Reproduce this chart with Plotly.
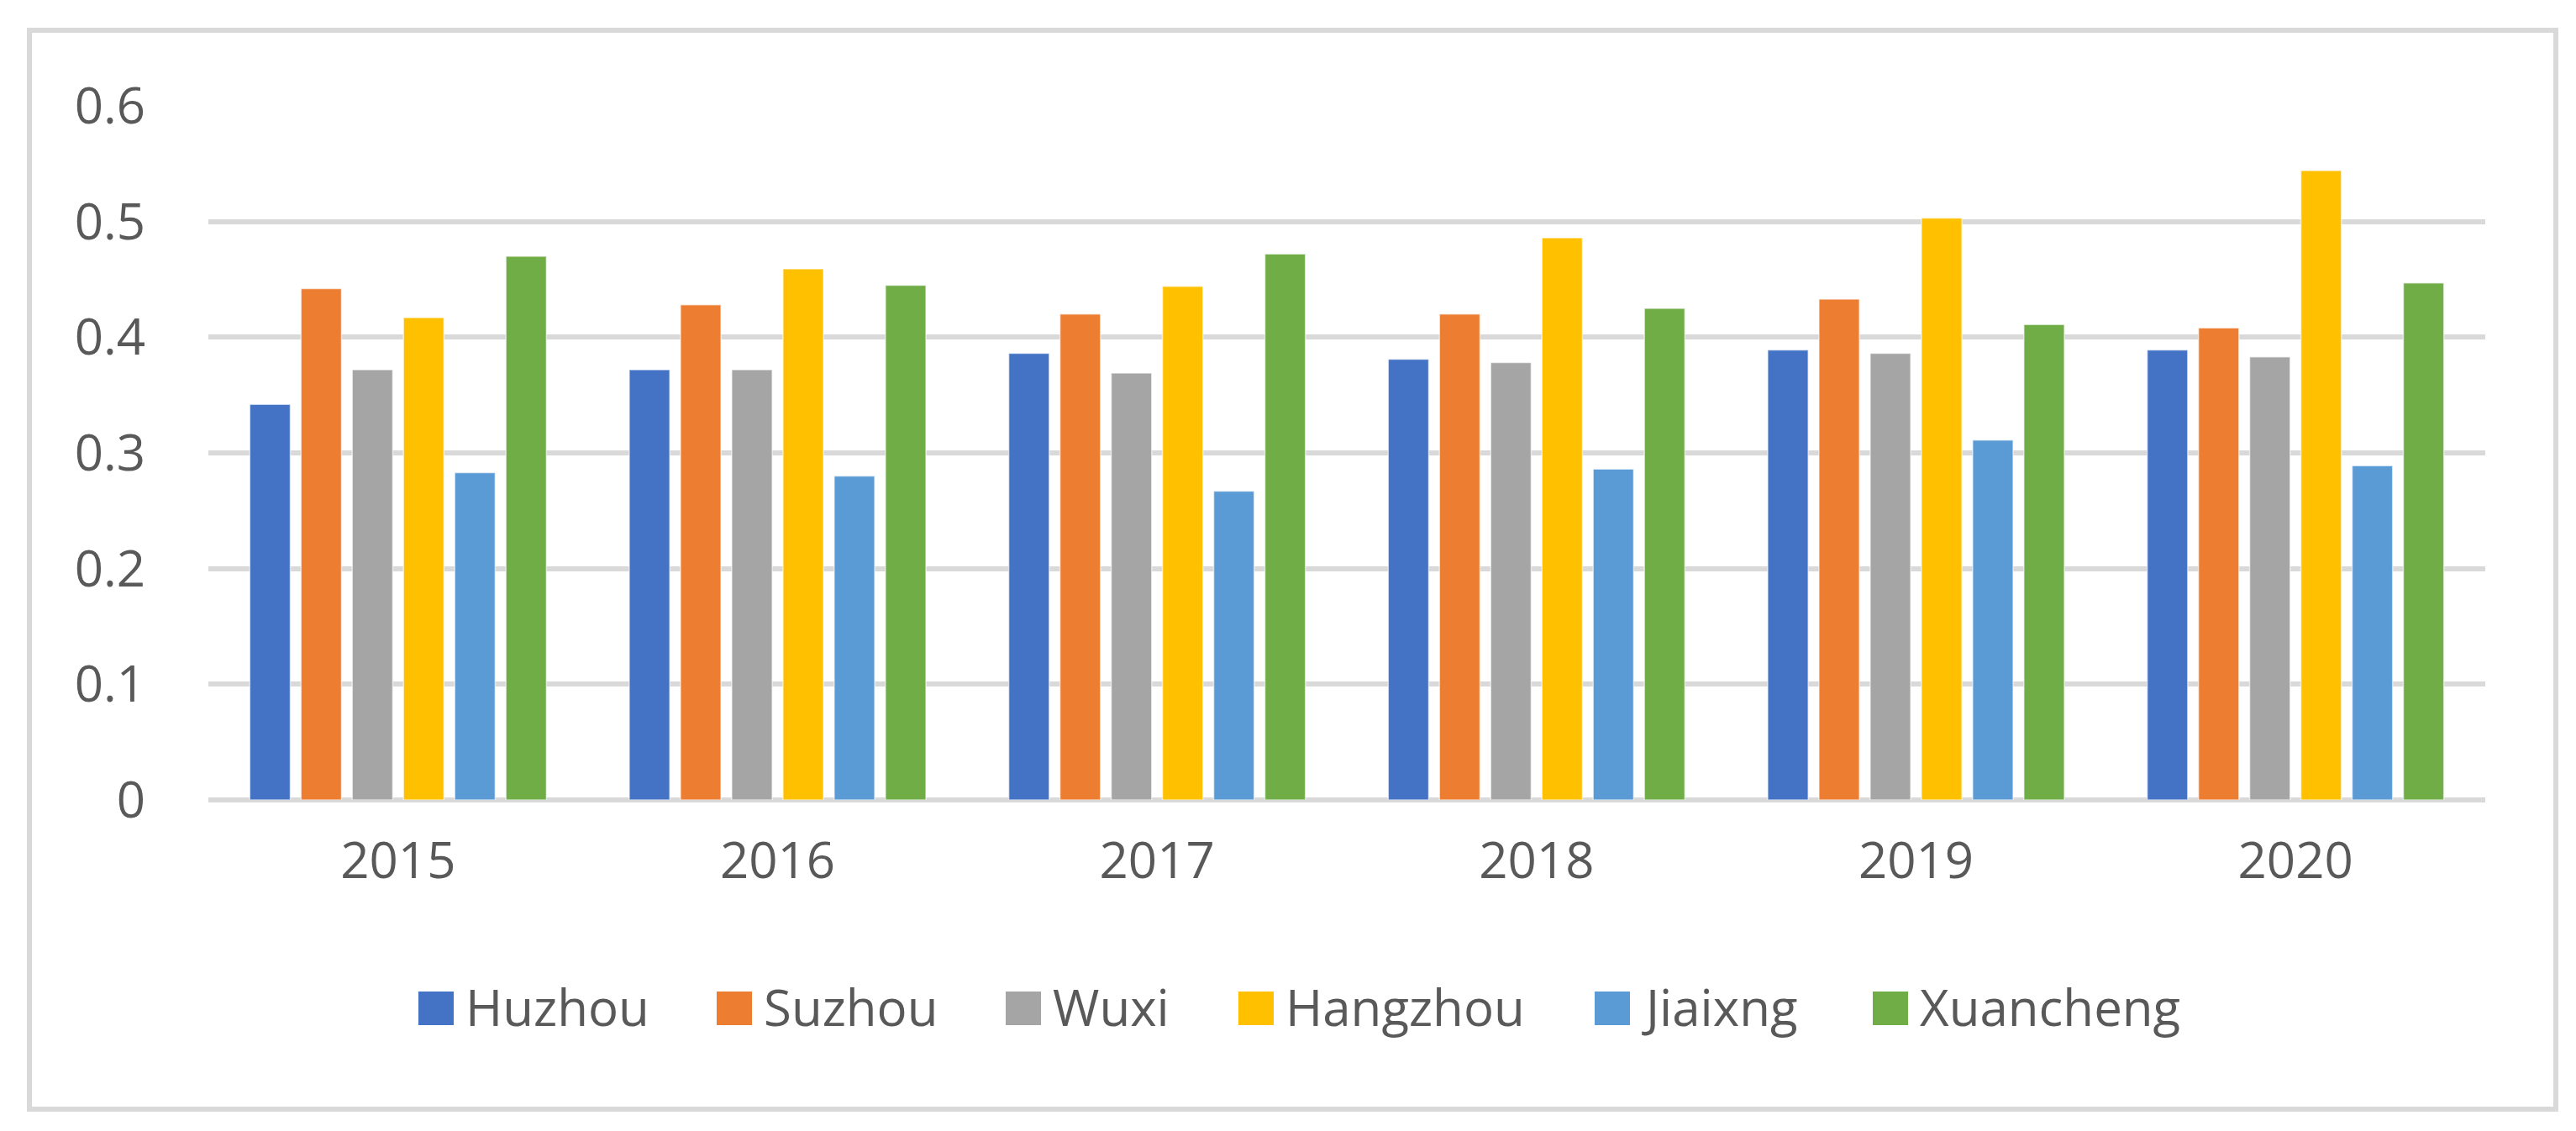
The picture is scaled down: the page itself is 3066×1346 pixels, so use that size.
import plotly.graph_objects as go

years = ["2015", "2016", "2017", "2018", "2019", "2020"]
cities = ["Huzhou", "Suzhou", "Wuxi", "Hangzhou", "Jiaixng", "Xuancheng"]
huzhou = [0.342, 0.372, 0.386, 0.381, 0.389, 0.389]
suzhou = [0.442, 0.428, 0.420, 0.420, 0.433, 0.408]
wuxi = [0.372, 0.372, 0.369, 0.378, 0.386, 0.383]
hangzhou = [0.417, 0.459, 0.444, 0.486, 0.503, 0.544]
jiaxing = [0.283, 0.280, 0.267, 0.286, 0.311, 0.289]
xuancheng = [0.470, 0.445, 0.472, 0.425, 0.411, 0.447]
colors = ["#4472C4", "#ED7D31", "#A5A5A5", "#FFC000", "#5B9BD5", "#70AD47"]
series = [huzhou, suzhou, wuxi, hangzhou, jiaxing, xuancheng]
yticks = [0, 0.1, 0.2, 0.3, 0.4, 0.5, 0.6]

W, H = 3066, 1346
L, R, T, B = 240, 116, 118, 402
FONT = "Open Sans"
GREY = "#595959"

fig = go.Figure()
for name, vals, col in zip(cities, series, colors):
    fig.add_trace(go.Bar(x=years, y=vals, name=name,
                         marker=dict(color=col, line=dict(color="rgba(255,255,255,0.6)", width=1.5)),
                         showlegend=False))

# manual legend (large swatches like the original)
leg_sq = [490, 845, 1189, 1466, 1890, 2221]
leg_y = 1190
pw, ph = W - L - R, H - T - B
shapes = [dict(type="rect", xref="paper", yref="paper",
               x0=(27 - L) / pw, x1=(3034 - L) / pw,
               y0=1 - (1312 - T) / ph, y1=1 - (28 - T) / ph,
               line=dict(color="#D9D9D9", width=6), fillcolor="rgba(0,0,0,0)", layer="below")]
annotations = []
for name, col, sx in zip(cities, colors, leg_sq):
    shapes.append(dict(type="rect", xref="paper", yref="paper",
                       x0=(sx - L) / pw, x1=(sx + 42 - L) / pw,
                       y0=1 - (leg_y + 22 - T) / ph, y1=1 - (leg_y - 18 - T) / ph,
                       line=dict(width=0), fillcolor=col))
    annotations.append(dict(text=name, xref="paper", yref="paper",
                            x=(sx + 54 - L) / pw, y=1 - (leg_y - T) / ph,
                            xanchor="left", yanchor="middle", showarrow=False,
                            font=dict(family=FONT, size=60, color=GREY)))

fig.update_layout(
    width=W, height=H,
    margin=dict(l=L, r=R, t=T, b=B),
    paper_bgcolor="white", plot_bgcolor="white",
    barmode="group", bargap=0.19, bargroupgap=0.21,
    font=dict(family=FONT, size=60, color=GREY),
    shapes=shapes, annotations=annotations,
    xaxis=dict(showgrid=False, showline=False, zeroline=False,
               ticks="outside", ticklen=20, tickcolor="rgba(0,0,0,0)",
               tickfont=dict(family=FONT, size=60, color=GREY)),
    yaxis=dict(range=[0, 0.6], tickvals=yticks, ticktext=[f"{v:g}" for v in yticks],
               showgrid=True, gridcolor="#D9D9D9", gridwidth=6,
               zeroline=True, zerolinecolor="#D9D9D9", zerolinewidth=6,
               showline=False, ticks="outside", ticklen=62, tickcolor="rgba(0,0,0,0)",
               tickfont=dict(family=FONT, size=60, color=GREY)),
    showlegend=False,
)

fig.write_html("out.html")
